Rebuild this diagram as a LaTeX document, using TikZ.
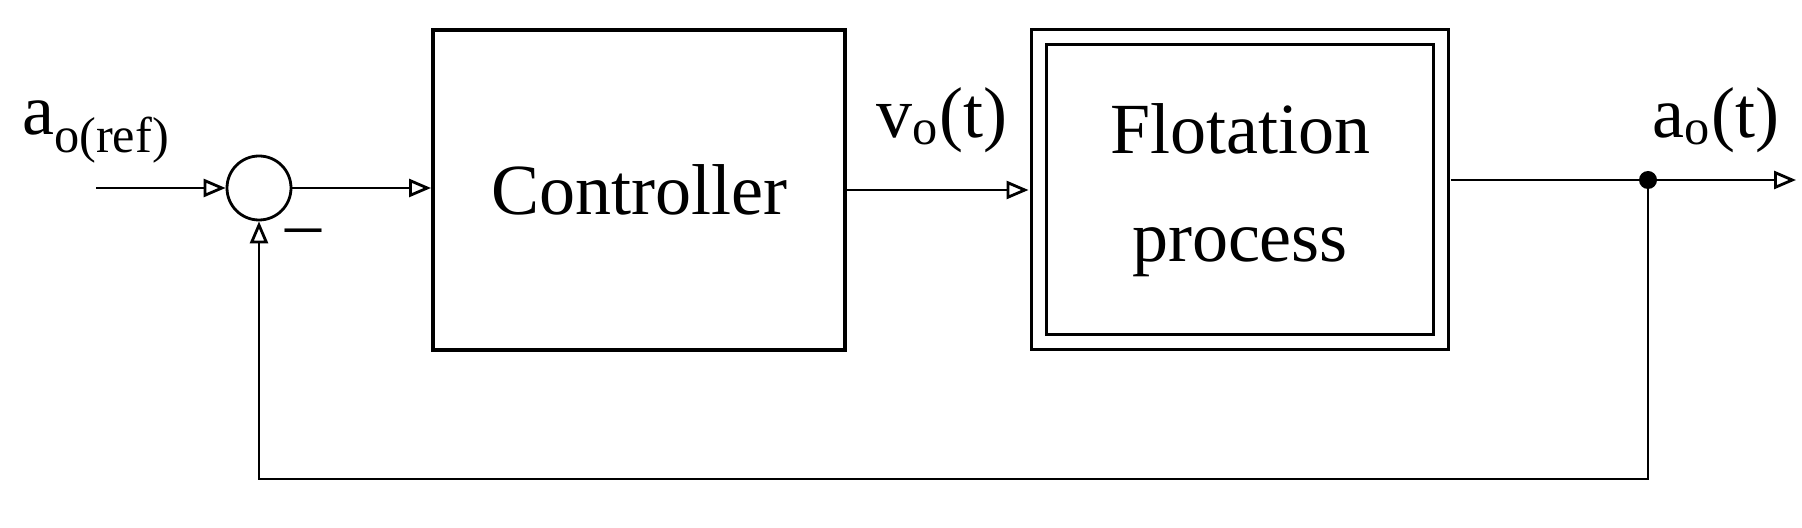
\documentclass[tikz,border=0pt]{standalone}
\usepackage{fontspec}
\setmainfont{Liberation Serif}
\usetikzlibrary{arrows.meta}

\begin{document}
\begin{tikzpicture}[x=0.5pt, y=-0.5pt, inner sep=0pt,
	>={Triangle[open,length=11pt,width=9pt]}]
	\tikzstyle{every node}=[align=center, font=\fontsize{36}{54}\selectfont]
	\tikzstyle{block}=[draw, line width=2pt]
	\tikzstyle{wire}=[line width=1.4pt]
	\useasboundingbox (0,0) rectangle (1802,528);
		\node (sum)  at (259, 188) [draw, circle, line width=1.4pt, minimum size=32pt] {};
		\node (ctrl) at (639, 190) [block, minimum width=206pt, minimum height=160pt] {Controller};
		\node (flot) at (1240, 190) [draw, line width=1.5pt, double, double distance=6pt,
			minimum width=201pt, minimum height=152.5pt] {Flotation\\process};
		\coordinate (in)  at (96, 188);
		\coordinate (jn)  at (1648, 180);
		\coordinate (out) at (1796, 180);
		\coordinate (bot) at (1648, 479);
		\node (ref)  at (96, 132) {a\textsubscript{o(ref)}};
		\node (vo)   at (942, 120) {v\textsubscript{o}(t)};
		\node (ao)   at (1716, 120) {a\textsubscript{o}(t)};
		\node (neg)  at (303, 238) {--};

		\draw[->, wire] (in) -- (sum.west);
		\draw[->, wire] (sum.east) -- (sum.east -| ctrl.west);
		\draw[->, wire] (ctrl.east) -- ([xshift=-4.5pt]flot.west |- ctrl.east);
		\draw[wire] ([xshift=4pt]flot.east |- jn) -- (jn);
		\draw[->, wire] (jn) -- (out);
		\fill (jn) circle (4.5pt);
		\draw[->, wire] (jn) -- (bot) -| (sum.south);
	\end{tikzpicture}
\end{document}
